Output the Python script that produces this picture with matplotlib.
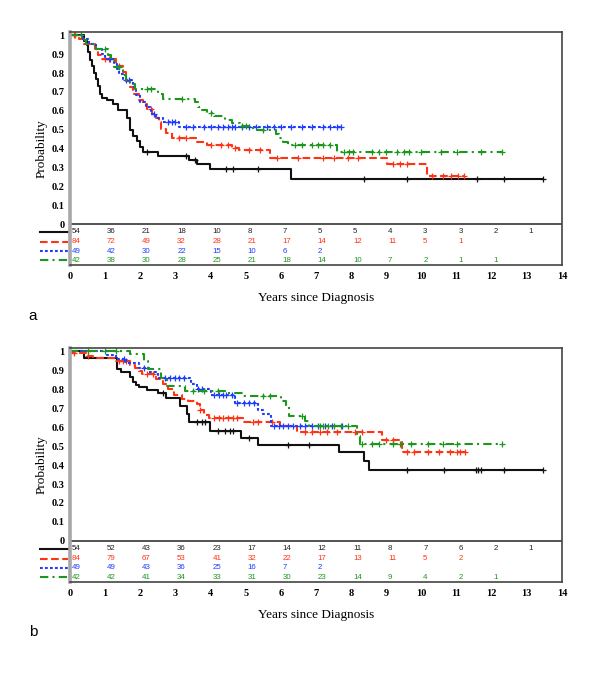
import numpy as np
import matplotlib
matplotlib.use('Agg')
import matplotlib.pyplot as plt

plt.rcParams['lines.scale_dashes'] = False

# ---- panel a : Kaplan-Meier steps (event times, survival after event) ----
a_black_t = [0, 0.4, 0.48, 0.52, 0.56, 0.62, 0.68, 0.74, 0.8, 0.86, 0.92, 1.06, 1.22, 1.37, 1.62, 1.7, 1.8, 1.92, 1.98, 2.08, 2.5, 3.4, 3.62, 3.98, 6.3]
a_black_s = [1, 0.97, 0.95, 0.91, 0.87, 0.84, 0.80, 0.77, 0.73, 0.69, 0.67, 0.655, 0.635, 0.605, 0.56, 0.50, 0.465, 0.44, 0.41, 0.38, 0.36, 0.34, 0.32, 0.29, 0.24]
a_black_end = 13.47
a_black_cens = [2.2, 3.3, 3.55, 4.45, 4.65, 5.35, 8.37, 9.58, 11.57, 12.35, 13.47]

a_red_t = [0, 0.25, 0.4, 0.7, 0.8, 0.9, 1.3, 1.5, 1.6, 1.7, 1.8, 1.96, 2.08, 2.2, 2.33, 2.45, 2.52, 2.6, 2.72, 2.9, 3.6, 3.9, 4.6, 4.8, 5.7, 9.02, 10.15]
a_red_s = [1, 0.98, 0.955, 0.93, 0.895, 0.875, 0.84, 0.805, 0.76, 0.725, 0.69, 0.655, 0.635, 0.61, 0.585, 0.56, 0.54, 0.505, 0.485, 0.455, 0.435, 0.42, 0.405, 0.39, 0.348, 0.316, 0.254]
a_red_end = 11.2
a_red_cens = [0.1, 0.15, 1.0, 1.1, 1.4, 2.3, 3.1, 3.3, 4.0, 4.3, 4.5, 4.7, 5.1, 5.4, 5.9, 6.5, 7.2, 7.5, 7.9,
              8.2, 9.2, 9.4, 9.6, 10.3, 10.6, 10.85, 11.05, 11.2]

a_blue_t = [0, 0.37, 0.55, 0.75, 0.9, 1.0, 1.25, 1.33, 1.4, 1.52, 1.78, 1.88, 2.0, 2.15, 2.3, 2.45, 2.65, 3.1]
a_blue_s = [1, 0.98, 0.955, 0.93, 0.90, 0.877, 0.85, 0.824, 0.797, 0.762, 0.726, 0.683, 0.647, 0.62, 0.585, 0.56, 0.541, 0.512]
a_blue_end = 7.7
a_blue_cens = [1.15, 1.6, 1.68, 2.4, 2.8, 2.9, 3.0, 3.3, 3.5, 3.8, 4.0, 4.2, 4.35, 4.5, 4.6, 4.7, 4.9, 5.1,
               5.3, 5.6, 5.8, 6.0, 6.3, 6.6, 6.9, 7.2, 7.4, 7.6, 7.7]

a_green_t = [0, 0.35, 0.45, 0.75, 1.08, 1.18, 1.25, 1.5, 1.6, 1.7, 1.85, 2.5, 2.65, 3.55, 3.65, 3.75, 3.9, 4.1, 4.4, 4.6, 4.85, 5.2, 5.85, 5.95, 6.05, 6.2, 7.6]
a_green_s = [1, 0.976, 0.956, 0.93, 0.895, 0.87, 0.83, 0.788, 0.762, 0.744, 0.718, 0.69, 0.665, 0.647, 0.62, 0.603, 0.59, 0.571, 0.553, 0.536, 0.52, 0.497, 0.48, 0.458, 0.435, 0.418, 0.383]
a_green_end = 12.28
a_green_cens = [0.3, 1.0, 1.4, 2.2, 2.3, 3.2, 4.0, 4.9, 5.0, 5.5, 6.4, 6.6, 6.9, 7.05, 7.2, 7.4, 7.8, 7.95,
                8.05, 8.6, 8.8, 9.0, 9.3, 9.5, 9.65, 10.0, 10.55, 11.0, 11.7, 12.28]

# ---- panel b ----
b_black_t = [0, 0.4, 1.35, 1.45, 1.7, 1.8, 1.88, 1.95, 2.18, 2.5, 2.72, 3.13, 3.33, 3.4, 3.98, 4.88, 5.34, 7.66, 8.37, 8.5]
b_black_s = [1, 0.966, 0.908, 0.89, 0.865, 0.84, 0.825, 0.813, 0.795, 0.778, 0.755, 0.71, 0.67, 0.626, 0.578, 0.543, 0.508, 0.467, 0.42, 0.372]
b_black_end = 13.47
b_black_cens = [2.65, 3.6, 3.75, 3.85, 4.2, 4.4, 4.55, 4.65, 5.1, 6.2, 6.8, 9.58, 10.65, 11.55, 11.62,
                11.7, 12.36, 13.47]

b_red_t = [0, 0.03, 0.45, 0.65, 1.3, 1.7, 1.85, 1.95, 2.05, 2.46, 2.65, 2.8, 2.95, 3.2, 3.35, 3.6, 3.7, 3.8, 3.95, 4.93, 5.97, 6.45, 8.87, 9.45]
b_red_s = [1, 0.99, 0.975, 0.966, 0.952, 0.93, 0.914, 0.895, 0.88, 0.852, 0.83, 0.80, 0.772, 0.75, 0.737, 0.72, 0.693, 0.667, 0.649, 0.628, 0.608, 0.575, 0.53, 0.469]
b_red_end = 11.25
b_red_cens = [0.1, 0.5, 1.4, 1.5, 1.6, 2.2, 2.35, 3.7, 4.1, 4.25, 4.35, 4.5, 4.65, 4.75, 5.2, 5.35, 5.75,
              6.7, 6.9, 7.1, 7.3, 7.6, 8.1, 8.3, 9.0, 9.2, 9.6, 9.8, 10.2, 10.5, 10.8, 11.0, 11.1, 11.25]

b_blue_t = [0, 1.05, 1.3, 1.6, 1.95, 2.25, 2.5, 3.45, 3.6, 4.0, 4.7, 5.35, 5.5, 5.72]
b_blue_s = [1, 0.98, 0.96, 0.94, 0.91, 0.89, 0.858, 0.83, 0.80, 0.77, 0.73, 0.69, 0.672, 0.605]
b_blue_end = 7.73
b_blue_cens = [1.55, 2.1, 2.7, 2.85, 3.0, 3.1, 3.25, 3.65, 3.75, 4.1, 4.25, 4.35, 4.45, 4.6, 4.75, 4.95,
               5.1, 5.25, 5.8, 5.95, 6.05, 6.2, 6.35, 6.55, 6.7, 6.9, 7.05, 7.25, 7.45, 7.73]

b_green_t = [0, 1.7, 2.1, 2.23, 2.6, 2.75, 3.27, 4.45, 4.93, 6.0, 6.15, 6.24, 6.7, 6.8, 8.17, 8.25]
b_green_s = [1, 0.984, 0.95, 0.905, 0.86, 0.817, 0.79, 0.78, 0.764, 0.737, 0.71, 0.661, 0.631, 0.605, 0.556, 0.512]
b_green_end = 12.28
b_green_cens = [0.5, 1.0, 1.3, 3.5, 3.8, 4.2, 5.5, 5.7, 6.6, 7.1, 7.2, 7.35, 7.5, 7.7, 7.9, 8.3, 8.6,
                8.8, 9.2, 9.4, 9.7, 10.2, 10.6, 11.0, 12.28]

# ---- numbers at risk ----
a_risk_black = [54, 36, 21, 18, 10, 8, 7, 5, 5, 4, 3, 3, 2, 1]
a_risk_red = [84, 72, 49, 32, 28, 21, 17, 14, 12, 11, 5, 1]
a_risk_blue = [49, 42, 30, 22, 15, 10, 6, 2]
a_risk_green = [42, 38, 30, 28, 25, 21, 18, 14, 10, 7, 2, 1, 1]

b_risk_black = [54, 52, 43, 36, 23, 17, 14, 12, 11, 8, 7, 6, 2, 1]
b_risk_red = [84, 79, 67, 53, 41, 32, 22, 17, 13, 11, 5, 2]
b_risk_blue = [49, 49, 43, 36, 25, 16, 7, 2]
b_risk_green = [42, 42, 41, 34, 33, 31, 30, 23, 14, 9, 4, 2, 1]

# styles
BLACK = '#111111'
RED = '#ff3314'
BLUE = '#1f3dff'
GREEN = '#1d961d'
styles = [
    dict(color=BLACK, ls='-'),
    dict(color=RED, ls=(0, (5.5, 2.5))),
    dict(color=BLUE, ls=(0, (2, 1.6))),
    dict(color=GREEN, ls=(0, (6, 3, 1.5, 3))),
]
risk_cols = ['#222222', RED, BLUE, GREEN]
row_y = [-0.042, -0.093, -0.143, -0.193]

W, H = 600, 673
fig = plt.figure(figsize=(6, 6.73), dpi=100)


def draw_panel(rect, curves, risks, letter, letter_y):
    ax = fig.add_axes(rect)
    for (t, s, end, cens), st in zip(curves, styles):
        t = np.array(t)
        s = np.array(s)
        xs = np.append(t, end)
        ys = np.append(s, s[-1])
        ax.step(xs, ys, where='post', lw=1.5, solid_capstyle='butt', **st)
        cy = s[np.searchsorted(t, cens, side='right') - 1]
        ax.plot(cens, cy, ls='none', marker='+', ms=5, mew=0.9, color=st['color'])

    for i, (row, col) in enumerate(zip(risks, risk_cols)):
        for k, n in enumerate(row):
            ax.text(k + 0.05, row_y[i], str(n), ha='left', va='center', fontsize=5.7,
                    color=col, family='Liberation Sans')
        ax.plot([-0.86, -0.06], [row_y[i], row_y[i]], lw=1.5, clip_on=False, **styles[i])

    ax.axhline(0, color='#444444', lw=1.3)
    ax.set_xlim(0, 14)
    ax.set_ylim(-0.217, 1.018)
    ax.set_xticks(range(15))
    ax.set_yticks(np.arange(0, 1.01, 0.1))
    ax.set_yticklabels(['0', '0.1', '0.2', '0.3', '0.4', '0.5', '0.6', '0.7', '0.8', '0.9', '1'])
    ax.tick_params(length=0, labelsize=7.5, pad=4)
    for lab in ax.get_xticklabels() + ax.get_yticklabels():
        lab.set_family('Liberation Serif')
        lab.set_fontweight('bold')
    ax.tick_params(axis='x', pad=5)
    for sp in ['top', 'right', 'bottom']:
        ax.spines[sp].set_color('#444444')
        ax.spines[sp].set_linewidth(1.2)
    ax.spines['left'].set_color('#a8a8a8')
    ax.spines['left'].set_linewidth(2.6)
    ax.set_ylabel('Probability', family='Liberation Serif', fontsize=9.5, labelpad=3)
    ax.set_xlabel('Years since Diagnosis', family='Liberation Serif', fontsize=9.5, labelpad=8)
    fig.text(33 / W, 1 - letter_y / H, letter, family='Liberation Sans', fontsize=11,
             ha='center', va='center')
    return ax


def px_rect(left, top, right, bottom):
    return [left / W, 1 - bottom / H, (right - left) / W, (bottom - top) / H]


draw_panel(px_rect(70, 32, 562, 265),
           [(a_black_t, a_black_s, a_black_end, a_black_cens),
            (a_red_t, a_red_s, a_red_end, a_red_cens),
            (a_blue_t, a_blue_s, a_blue_end, a_blue_cens),
            (a_green_t, a_green_s, a_green_end, a_green_cens)],
           [a_risk_black, a_risk_red, a_risk_blue, a_risk_green], 'a', 316)

draw_panel(px_rect(70, 348, 562, 582),
           [(b_black_t, b_black_s, b_black_end, b_black_cens),
            (b_red_t, b_red_s, b_red_end, b_red_cens),
            (b_blue_t, b_blue_s, b_blue_end, b_blue_cens),
            (b_green_t, b_green_s, b_green_end, b_green_cens)],
           [b_risk_black, b_risk_red, b_risk_blue, b_risk_green], 'b', 632)

fig.savefig('out.png', dpi=100)
